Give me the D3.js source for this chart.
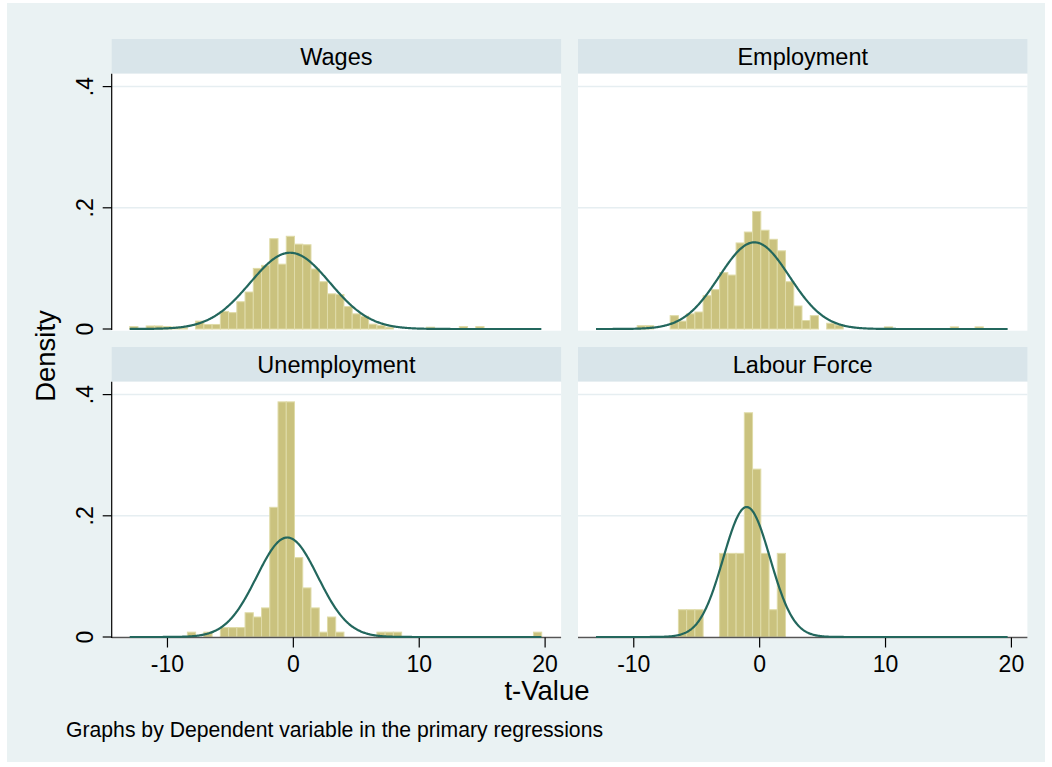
<!DOCTYPE html>
<html>
<head>
<meta charset="utf-8">
<script src="https://cdn.jsdelivr.net/npm/d3@7"></script>
<style>
  body { margin: 0; background: #fff; }
  text { font-family: "Liberation Sans", Arial, sans-serif; fill: #000; }
</style>
</head>
<body>
<div id="chart"></div>
<script>
// histogram of t-values by dependent variable, common bins
const panelNames = ["Wages", "Employment", "Unemployment", "Labour Force"];
const binStart = -13.0;
const binWidth = 0.6546;

const wagesDensity = [0.004, 0, 0.005, 0.005, 0.004, 0.003, 0.002, 0, 0.013, 0.0075,
    0.0075, 0.029, 0.027, 0.045, 0.061, 0.100, 0.105, 0.149, 0.107, 0.153,
    0.140, 0.139, 0.099, 0.078, 0.058, 0.057, 0.037, 0.025, 0.021, 0.008,
    0.006, 0.003, 0, 0, 0, 0, 0.003, 0, 0, 0,
    0.004, 0, 0.004, 0, 0, 0, 0, 0, 0, 0];
const employmentDensity = [0, 0, 0, 0, 0, 0.0055, 0.0055, 0, 0, 0.022,
    0.013, 0.025, 0.028, 0.055, 0.065, 0.093, 0.089, 0.142, 0.160, 0.194,
    0.163, 0.148, 0.129, 0.078, 0.038, 0.014, 0.022, 0, 0.0095, 0.0065,
    0, 0, 0, 0, 0, 0.0035, 0, 0, 0, 0,
    0, 0, 0, 0.0035, 0, 0, 0.0035, 0, 0, 0];
const unemploymentDensity = [0, 0, 0, 0, 0, 0, 0, 0.008, 0, 0.008,
    0, 0.0155, 0.0155, 0.0155, 0.040, 0.033, 0.048, 0.214, 0.388, 0.388,
    0.131, 0.081, 0.048, 0.008, 0.033, 0.008, 0, 0, 0, 0,
    0.008, 0.008, 0.008, 0, 0, 0, 0, 0, 0, 0,
    0, 0, 0, 0, 0, 0, 0, 0, 0, 0.008];
const labourDensity = [0, 0, 0, 0, 0, 0, 0, 0, 0, 0,
    0.045, 0.045, 0.045, 0, 0, 0.138, 0.138, 0.138, 0.370, 0.277,
    0.138, 0.045, 0.138, 0, 0, 0, 0, 0, 0, 0,
    0, 0, 0, 0, 0, 0, 0, 0, 0, 0,
    0, 0, 0, 0, 0, 0, 0, 0, 0, 0];

// fitted normal overlay (mean, sd per panel), drawn over the data range
const normMean = [-0.26, -0.42, -0.48, -1.03];
const normSd = [3.17, 2.79, 2.43, 1.86];
const curveRange = [-13.0, 19.7];

const xTicks = [-10, 0, 10, 20];
const yTicks = [0, 0.2, 0.4];
const yTickLabels = ["0", ".2", ".4"];

const densities = [wagesDensity, employmentDensity, unemploymentDensity, labourDensity];

const width = 1052, height = 767;
const colX = [111.7, 578];
const colW = 449.4;
const rowY = [73.7, 381.7];
const rowH = 257;
const stripH = 34.7;

const svg = d3.select("#chart").append("svg")
    .attr("width", width)
    .attr("height", height);

svg.append("rect")
    .attr("x", 7).attr("y", 3)
    .attr("width", 1038).attr("height", 759)
    .attr("fill", "#eaf2f3");

const x = d3.scaleLinear().domain([-14.43, 21.27]).range([0, colW]);
const y = d3.scaleLinear().domain([0, 0.4]).range([255.3, 12.9]);

function normalPdf(v, m, s) {
    return Math.exp(-0.5 * ((v - m) / s) ** 2) / (s * Math.sqrt(2 * Math.PI));
}

const line = d3.line().x(d => x(d[0])).y(d => y(d[1]));

panelNames.forEach((name, i) => {
    const col = i % 2, row = Math.floor(i / 2);
    const g = svg.append("g")
        .attr("transform", `translate(${colX[col]},${rowY[row]})`);

    // title strip
    g.append("rect")
        .attr("x", 0).attr("y", -stripH)
        .attr("width", colW).attr("height", stripH)
        .attr("fill", "#d9e5ea");
    g.append("text")
        .attr("x", colW / 2).attr("y", -stripH / 2 + 8.4)
        .attr("text-anchor", "middle")
        .attr("font-size", "23.5px")
        .text(name);

    g.append("rect")
        .attr("width", colW).attr("height", rowH)
        .attr("fill", "#fff");

    // gridlines
    g.selectAll("line.grid")
        .data(yTicks.filter(t => t > 0))
        .join("line")
        .attr("class", "grid")
        .attr("x1", 0).attr("x2", colW)
        .attr("y1", d => y(d)).attr("y2", d => y(d))
        .attr("stroke", "#e6eef1")
        .attr("stroke-width", 1.5);

    const bins = densities[i]
        .map((d, k) => ({ x0: binStart + k * binWidth, x1: binStart + (k + 1) * binWidth, d }))
        .filter(b => b.d > 0);

    g.selectAll("rect.bar")
        .data(bins)
        .join("rect")
        .attr("class", "bar")
        .attr("x", b => x(b.x0))
        .attr("width", b => x(b.x1) - x(b.x0))
        .attr("y", b => y(b.d))
        .attr("height", b => y(0) - y(b.d))
        .attr("fill", "#cac27e")
        .attr("stroke", "#dfdba8")
        .attr("stroke-width", 1);

    if (row === 1) {
        g.append("line")
            .attr("x1", 0).attr("x2", colW)
            .attr("y1", y(0) + 0.5).attr("y2", y(0) + 0.5)
            .attr("stroke", "#555")
            .attr("stroke-width", 1.5);
        const ax = g.append("g").attr("transform", `translate(0,${y(0) + 0.5})`);
        ax.selectAll("line")
            .data(xTicks)
            .join("line")
            .attr("x1", d => x(d)).attr("x2", d => x(d))
            .attr("y1", 0).attr("y2", 10)
            .attr("stroke", "#000")
            .attr("stroke-width", 1.2);
        ax.selectAll("text")
            .data(xTicks)
            .join("text")
            .attr("x", d => x(d))
            .attr("y", 34)
            .attr("text-anchor", "middle")
            .attr("font-size", "23px")
            .text(d => d);
    }

    // normal curve
    const pts = d3.range(curveRange[0], curveRange[1] + 0.001, 0.05)
        .map(v => [v, normalPdf(v, normMean[i], normSd[i])]);
    g.append("path")
        .datum(pts)
        .attr("d", line)
        .attr("fill", "none")
        .attr("stroke", "#23675d")
        .attr("stroke-width", 2.2);

    if (col === 0) {
        g.append("line")
            .attr("x1", 0).attr("x2", 0)
            .attr("y1", 0).attr("y2", y(0) + 1)
            .attr("stroke", "#000")
            .attr("stroke-width", 1.2);
        g.selectAll("line.ytick")
            .data(yTicks)
            .join("line")
            .attr("class", "ytick")
            .attr("x1", -9).attr("x2", 0)
            .attr("y1", d => y(d)).attr("y2", d => y(d))
            .attr("stroke", "#000")
            .attr("stroke-width", 1.2);
        g.selectAll("text.ylab")
            .data(yTicks)
            .join("text")
            .attr("class", "ylab")
            .attr("transform", d => `translate(-18.5,${y(d)}) rotate(-90)`)
            .attr("text-anchor", "middle")
            .attr("font-size", "23px")
            .text((d, k) => yTickLabels[k]);
    }
});

svg.append("text")
    .attr("transform", "translate(55,356) rotate(-90)")
    .attr("text-anchor", "middle")
    .attr("font-size", "27.5px")
    .text("Density");

svg.append("text")
    .attr("x", 547).attr("y", 700)
    .attr("text-anchor", "middle")
    .attr("font-size", "27.5px")
    .text("t-Value");

svg.append("text")
    .attr("x", 66).attr("y", 737)
    .attr("font-size", "21.2px")
    .text("Graphs by Dependent variable in the primary regressions");
</script>
</body>
</html>
